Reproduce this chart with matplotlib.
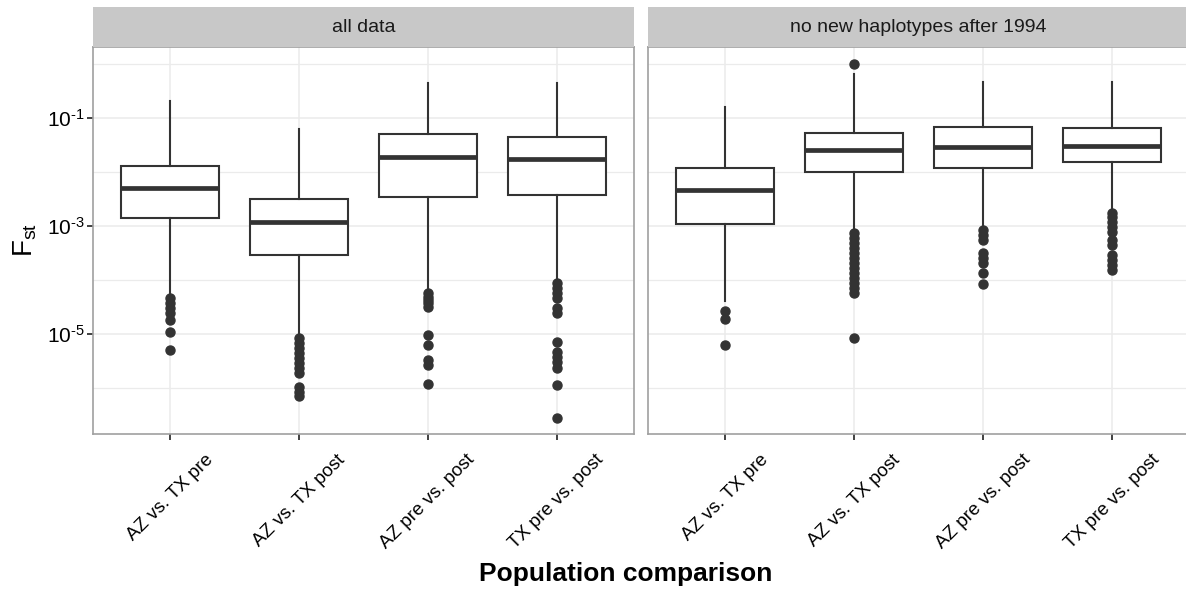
import numpy as np
import matplotlib
matplotlib.use("Agg")
import matplotlib.pyplot as plt
from matplotlib.patches import Rectangle

plt.rcParams['font.family'] = ['Liberation Sans', 'DejaVu Sans']
plt.rcParams['mathtext.fontset'] = 'custom'
plt.rcParams['mathtext.rm'] = 'Liberation Sans'
plt.rcParams['mathtext.it'] = 'Liberation Sans:italic'
plt.rcParams['mathtext.bf'] = 'Liberation Sans:bold'

# ---------------- data (log10 of Fst) ----------------
categories = ["AZ vs. TX pre", "AZ vs. TX post", "AZ pre vs. post", "TX pre vs. post"]
panels = ["all data", "no new haplotypes after 1994"]

# panel 1: all data
all_whishi = [-0.674, -1.204, -0.352, -0.341]
all_q3     = [-1.878, -2.494, -1.297, -1.340]
all_med    = [-2.285, -2.926, -1.722, -1.754]
all_q1     = [-2.840, -3.526, -2.457, -2.426]
all_whislo = [-4.272, -5.040, -4.180, -4.026]
all_fliers = [
    [-4.333, -4.426, -4.519, -4.611, -4.735, -4.952, -5.290],
    [-5.074, -5.167, -5.259, -5.352, -5.444, -5.537, -5.630, -5.722, -5.970, -6.063, -6.143],
    [-4.241, -4.304, -4.365, -4.426, -4.489, -5.013, -5.198, -5.476, -5.568, -5.920],
    [-4.056, -4.148, -4.241, -4.333, -4.519, -4.611, -5.137, -5.322, -5.415, -5.507, -5.630, -5.939, -6.544],
]

# panel 2: no new haplotypes after 1994
nn_whishi = [-0.796, -0.185, -0.322, -0.322]
nn_q3     = [-1.915, -1.267, -1.155, -1.174]
nn_med    = [-2.333, -1.587, -1.526, -1.507]
nn_q1     = [-2.952, -2.000, -1.915, -1.803]
nn_whislo = [-4.378, -3.069, -3.007, -2.698]
nn_fliers = [
    [-4.563, -4.722, -5.198],
    [0.0, -3.130, -3.222, -3.315, -3.407, -3.500, -3.593, -3.685, -3.778, -3.870,
     -3.963, -4.056, -4.148, -4.241, -5.074],
    [-3.069, -3.161, -3.254, -3.500, -3.593, -3.685, -3.870, -4.069],
    [-2.748, -2.822, -2.915, -3.007, -3.100, -3.254, -3.346, -3.531, -3.624, -3.716, -3.809],
]

ytick_exp = [-1, -3, -5]
yminor_exp = [0, -2, -4, -6]
ylim_log = (-6.852, 0.32)

# ---------------- layout ----------------
W, H = 1186, 590
fig = plt.figure(figsize=(W / 100, H / 100), dpi=100)

def px_axes(x0, y0, x1, y1):
    return fig.add_axes([x0 / W, 1 - y1 / H, (x1 - x0) / W, (y1 - y0) / H])

panel_w = 541.8
ax1 = px_axes(92.5, 47, 92.5 + panel_w, 434.3)
ax2 = px_axes(647.7, 47, 647.7 + panel_w, 434.3)

dark = '#333333'
grid_c = '#EBEBEB'
border_c = '#A0A0A0'

def draw(ax, whishi, q3, med, q1, whislo, fliers, show_y):
    stats = []
    for i in range(len(categories)):
        stats.append(dict(med=10 ** med[i], q1=10 ** q1[i], q3=10 ** q3[i],
                          whislo=10 ** whislo[i], whishi=10 ** whishi[i],
                          fliers=10 ** np.array(fliers[i]), label=categories[i]))
    pos = np.arange(1, len(categories) + 1)
    ax.set_yscale('log')
    ax.bxp(stats, positions=pos, widths=0.76, showcaps=False, patch_artist=True,
           boxprops=dict(facecolor='white', edgecolor=dark, linewidth=1.5),
           whiskerprops=dict(color=dark, linewidth=1.5),
           medianprops=dict(color=dark, linewidth=3.4, solid_capstyle='butt'),
           flierprops=dict(marker='o', markersize=6.5, markerfacecolor=dark,
                           markeredgecolor=dark, linestyle='none'),
           zorder=3)
    ax.set_xlim(0.4, len(categories) + 0.6)
    ax.set_ylim(10 ** ylim_log[0], 10 ** ylim_log[1])
    ax.set_xticks(pos)
    ax.set_xticklabels(categories, rotation=45, ha='center', va='top', fontsize=13.5,
                       color='black')
    ax.set_yticks([10.0 ** e for e in ytick_exp])
    ax.set_yticks([10.0 ** e for e in yminor_exp], minor=True)
    ax.set_yticklabels([r'$\mathregular{10^{\text{-%d}}}$' % abs(e) for e in ytick_exp],
                       fontsize=15)
    ax.set_yticklabels([], minor=True)
    ax.tick_params(axis='y', which='minor', length=0)
    ax.tick_params(axis='both', which='major', color=dark, width=1.3, length=4.3)
    ax.tick_params(axis='x', pad=8)
    ax.tick_params(axis='y', pad=1.5)
    for e in ytick_exp:
        ax.axhline(10.0 ** e, color=grid_c, linewidth=1.1, zorder=0)
    for e in yminor_exp:
        ax.axhline(10.0 ** e, color=grid_c, linewidth=0.9, zorder=0)
    for p in pos:
        ax.axvline(p, color=grid_c, linewidth=1.1, zorder=0)
    for s in ax.spines.values():
        s.set_color(border_c)
        s.set_linewidth(1.2)
    if not show_y:
        ax.tick_params(axis='y', which='both', left=False, labelleft=False)

draw(ax1, all_whishi, all_q3, all_med, all_q1, all_whislo, all_fliers, True)
draw(ax2, nn_whishi, nn_q3, nn_med, nn_q1, nn_whislo, nn_fliers, False)

# strips
for x0, title in zip([92.5, 647.7], panels):
    sax = px_axes(x0, 7, x0 + panel_w, 47)
    sax.add_patch(Rectangle((0, 0), 1, 1, transform=sax.transAxes,
                            facecolor='#C8C8C8', edgecolor='none'))
    sax.text(0.5, 0.5, title, ha='center', va='center', fontsize=14, color='#1A1A1A',
             transform=sax.transAxes)
    sax.set_xlim(0, 1); sax.set_ylim(0, 1)
    sax.axis('off')

fig.text(25 / W, 1 - 240 / H, r'$\mathregular{F_{st}}$', rotation=90, ha='center',
         va='center', fontsize=20)
fig.text(626 / W, 1 - 574 / H, 'Population comparison', ha='center', va='center',
         fontsize=19, fontweight='bold')

fig.savefig('out.png', dpi=100)
